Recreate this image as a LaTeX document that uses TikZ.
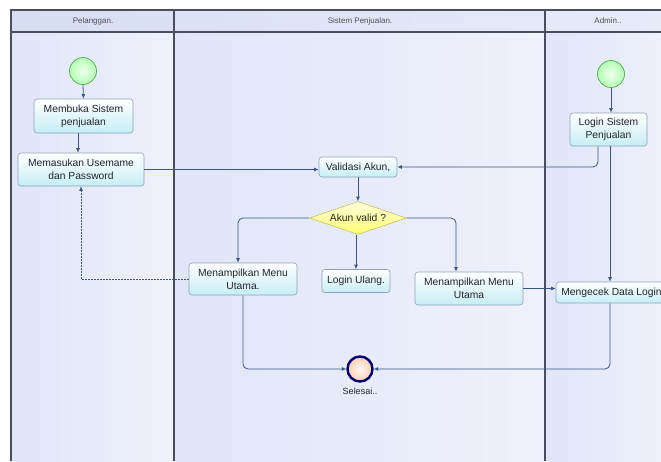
\documentclass[tikz,border=0pt]{standalone}
\usepackage{fontspec}
\setmainfont{Liberation Sans}
\usetikzlibrary{shapes.geometric,arrows.meta,shadings}

\definecolor{lanel}{HTML}{E0E6F8}
\definecolor{laner}{HTML}{EFF1FB}
\definecolor{headl}{HTML}{D6DEF3}
\definecolor{headr}{HTML}{E8ECF9}
\definecolor{frame}{HTML}{4A4D5C}
\definecolor{flow}{HTML}{3A5488}
\definecolor{boxline}{HTML}{8CA2B4}
\definecolor{boxfill}{HTML}{C6EEF6}
\definecolor{txt}{HTML}{24242C}

\tikzset{
  lane/.style={left color=lanel, right color=laner, draw=none},
  lanehead/.style={left color=headl, right color=headr, draw=none},
  divider/.style={draw=frame, line width=1.1pt},
  lanetitle/.style={font=\fontsize{8}{10}\selectfont, text=txt!80},
  activity/.style={rectangle, rounded corners=3pt, draw=boxline, line width=0.6pt,
    top color=white, bottom color=boxfill, text=txt, align=center,
    font=\fontsize{10.3}{13}\selectfont, inner sep=1pt},
  decision/.style={diamond, draw=yellow!50!gray, line width=0.6pt,
    top color=yellow!15, bottom color=yellow!55, text=txt, inner sep=0pt, aspect=3,
    font=\fontsize{10.3}{13}\selectfont, minimum width=97pt, minimum height=33pt},
  startev/.style={circle, draw=green!35!gray, line width=0.7pt,
    inner color=green!6, outer color=green!30!white, minimum size=27pt, inner sep=0pt},
  endev/.style={circle, draw=blue!45!black, line width=2.4pt,
    inner color=orange!5, outer color=red!25!orange!30, minimum size=25pt, inner sep=0pt},
  flowline/.style={draw=flow, line width=0.8pt, rounded corners=5pt,
    -{Latex[length=4.5pt,width=4pt]}},
  backline/.style={flowline, dashed, dash pattern=on 2pt off 1pt, rounded corners=0pt}
}

\begin{document}
\begin{tikzpicture}[x=1pt, y=-1pt]
\useasboundingbox (0,0) rectangle (661,461);
\fill[white] (0,0) rectangle (661,461);

% swimlanes
\fill[lane] (11,32) rectangle (174,461);
\fill[lane] (174,32) rectangle (545,461);
\fill[lane] (545,32) rectangle (670,461);
\fill[lanehead] (11,10) rectangle (670,32);
\draw[divider] (11,461) -- (11,10) -- (670,10);
\draw[divider] (11,32) -- (670,32);
\draw[divider] (174,10) -- (174,461);
\draw[divider] (545,10) -- (545,461);

\node[lanetitle] (t1) at (93,21) {Pelanggan.};
\node[lanetitle] (t2) at (360,21) {Sistem Penjualan.};
\node[lanetitle] (t3) at (608,21) {Admin..};

% Pelanggan
\node[startev] (s1) at (83,71) {};
\node[activity, minimum width=99pt, minimum height=34pt] (n1) at (83.5,116) {Membuka Sistem\\penjualan};
\node[activity, minimum width=126pt, minimum height=33pt] (n2) at (81,169.5) {Memasukan Usemame\\dan Password};

% Sistem Penjualan
\node[activity, minimum width=78pt, minimum height=20pt] (v) at (358,167) {Validasi Akun,};
\node[decision] (d) at (358,218) {Akun valid ?};
\node[activity, minimum width=68pt, minimum height=23pt] (lu) at (356,281) {Login Ulang.};
\node[activity, minimum width=108pt, minimum height=32pt] (m1) at (243,279) {Menampilkan Menu\\Utama.};
\node[activity, minimum width=108pt, minimum height=33pt] (m2) at (469,288.5) {Menampilkan Menu\\Utama};
\node[endev] (e) at (360,369) {};
\node[font=\fontsize{9}{11}\selectfont, text=txt] (el) at (360,391) {Selesai..};

% Admin
\node[startev] (s2) at (611,74) {};
\node[activity, minimum width=77pt, minimum height=33pt] (l) at (608.5,129.5) {Login Sistem\\Penjualan};
\node[activity, minimum width=111pt, minimum height=21pt] (mc) at (611.5,292.5) {Mengecek Data Login};

% flows
\draw[flowline] (s1.south) -- (n1.north);
\draw[flowline] ([xshift=-5.5pt]n1.south) -- ([xshift=-5.5pt]n1.south |- n2.north);
\draw[flowline] (n2.east) -- (n2.east -| v.west);
\draw[flowline] ([xshift=-10.5pt]l.south) |- (v.east);
\draw[flowline] (v.south) -- (d.north);
\draw[flowline] (d.west) -| ([xshift=-5pt]m1.north);
\draw[flowline] ([xshift=-2pt]d.south) -- ([xshift=-2pt]d.south |- lu.north);
\draw[flowline] (d.east) -| ([xshift=-13pt]m2.north);
\draw[backline] (m1.west) -| (n2.south);
\draw[flowline] (m2.east) -- (m2.east -| mc.west);
\draw[flowline] (s2.south) -- (s2.south |- l.north);
\draw[flowline] ([xshift=1.5pt]l.south) -- ([xshift=1.5pt]l.south |- mc.north);
\draw[flowline] ([xshift=-1.5pt]mc.south) |- (e.east);
\draw[flowline] (m1.south) |- (e.west);
\end{tikzpicture}
\end{document}
